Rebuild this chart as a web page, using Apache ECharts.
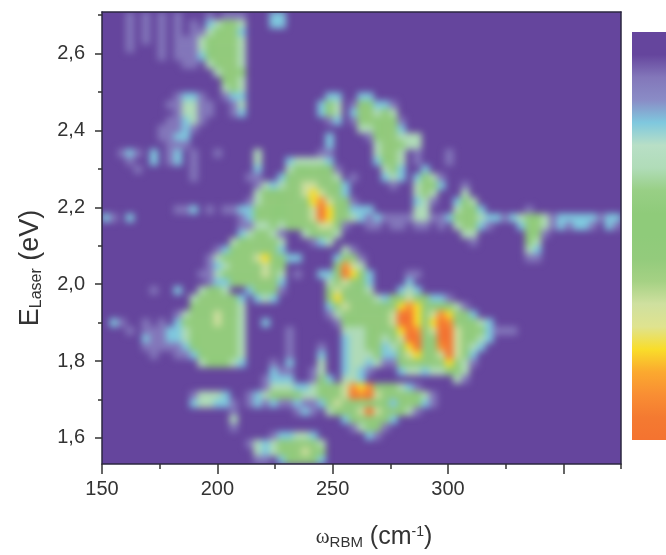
<!DOCTYPE html>
<html>
<head>
<meta charset="utf-8">
<script src="https://cdn.jsdelivr.net/npm/echarts@6/dist/echarts.min.js"></script>
<style>
html,body{margin:0;padding:0;background:#fff;}
#wrap{position:relative;width:666px;height:555px;overflow:hidden;z-index:0;}
#plotBack{position:absolute;left:102px;top:12px;width:519px;height:452px;background:#65459d;}
#chart{position:absolute;left:0;top:0;width:666px;height:555px;}
</style>
</head>
<body>
<div id="wrap"><div id="plotBack"></div><div id="chart"></div></div>
<script>
var xMajorTicks = [150,200,250,300,350];
var xLabelTicks = [150,200,250,300];
var xMinorTicks = [175,225,275,325,375];
var yMajorTicks = [1.6,1.8,2.0,2.2,2.4,2.6];
var yMinorTicks = [1.7,1.9,2.1,2.3,2.5,2.7];
var colorStops = ['#65459d','#65459d','#8377ba','#8a8cc6','#7fc8de','#b8dfc6','#b0dcb8','#98cf85','#8fcb7a','#8fcb7a','#93cb7c','#a5d184','#cfe09f','#dfe38f','#f9dd2a','#fba92f','#f98e33','#f47a31','#f47330'];
var nCols = 65;
// intensity levels, one row per ~8px band from the top, "startColumn:levels"
var intensityRows = [
"3:1 5:1 7:1 9:1 13:1 15:11 17:1 21:22",
"3:1 5:1 7:1 9:1 11:1 13:23453 21:22",
"3:1 5:1 7:1 9:1 11:1 12:134552",
"3:1 5:1 7:1 9:111 12:345553",
"3:1 7:1 9:111345553",
"7:1 9:111245553",
"10:11 13:34553",
"14:3554",
"15:453",
"15:343",
"9:1221 15:122 28:22 32:22",
"8:113311 16:13 27:243 31:144221",
"9:13311 16:12 27:243 31:255343",
"8:11231 28:12 31:1454541",
"7:11121 32:334552",
"7:1122 28:2 33:1455333",
"8:111 28:2 34:355433",
"2:121 6:2 8:12 11:1 14:1 19:3 27:11 34:3553 39:1 43:1",
"3:1 6:2 8:12 11:1 19:3 23:233332 34:2453 39:1 43:1",
"4:1 11:1 19:2 23:3445441 35:352 40:2",
"11:1 18:11 22:24555553 31:1 35:232 39:2431",
"19:132355665542 36:1 39:3542 45:1",
"19:344455676552 39:353 45:3",
"18:13554555786541 39:231 44:243",
"9:112 13:1 15:1122454455569754222 39:33 44:3542 53:1",
"0:21 3:2 17:124544555697553212111133112455322123443122222122",
"17:11334345556641 33:1101101101 44:35521 52:25531 57:21221 63:21",
"17:234531 25:34553 45:33 53:441",
"16:3455543 26:123 46:1 53:43",
"14:1 15:24555552 30:31 53:32",
"13:134555675422 29:2551 53:11",
"13:1235555654 29:4863",
"12:11345555653 24:1 27:2259742 38:11",
"13:1224555552 28:356542 38:2",
"6:1 9:2 12:3443 18:24441 28:465543 37:232",
"11:3555542 19:232 28:4755543245654221",
"11:4555553 28:256555545787544431",
"9:135556553 28:1 29:355555569975687542",
"1:21 5:1 7:1 9:245556553 20:2 29:14455556997579855432",
"3:1 5:1112235555553 23:1 30:3334545798569965542111",
"5:2112234555553 23:1 30:2334534699559965432",
"5:1111124555553 23:1 27:1 30:233452357955896532",
"6:1 9:112455553 23:1 27:2 30:233342256755696 45:42",
"12:344432 21:1 23:2 27:3 30:233231145555575 45:31",
"21:21 23:1 26:13 30:2321 37:233233443",
"20:1222 26:142 30:332 44:31",
"20:13332234556878554321",
"11:13332 18:123444433455698965555431",
"11:233221 18:12121 23:12112465555442 37:45421",
"16:1 24:121 28:345569655431",
"16:3 30:2455542",
"16:1 31:13441",
"21:122332 33:21",
"18:1323455553",
"19:323555654",
"19:11 22:245542"
];

var columns = [];
for (var c = 0; c < nCols; c++) columns.push(c);
var rowsIdx = intensityRows.map(function (_, i) { return i; });
var cells = [];
intensityRows.forEach(function (row, r) {
  row.split(' ').forEach(function (seg) {
    var p = seg.split(':'), start = +p[0];
    p[1].split('').forEach(function (d, k) {
      if (+d > 0 && start + k < nCols) cells.push([start + k, r, +d]);
    });
  });
});

var font = '"Liberation Sans", Arial, sans-serif';
var ink = '#333333';
var frame = '#2b2740';
var gridBox = {left:102, top:12, width:519, height:452, containLabel:false};
var hiddenAxis = function (d, inv) {
  return {type:'category', data:d, show:false, inverse:!!inv, boundaryGap:true, zlevel:1};
};
var barStops = colorStops.map(function (col, i) { return {offset:i / (colorStops.length - 1), color:col}; });
var chart = echarts.init(document.getElementById('chart'), null, {renderer:'canvas'});
chart.setOption({
  animation:false,
  backgroundColor:'transparent',
  grid:gridBox,
  xAxis:[
    hiddenAxis(columns),
    {type:'value', position:'bottom', min:150, max:375, zlevel:1, splitLine:{show:false},
     axisLine:{show:true, lineStyle:{color:frame, width:1.5}},
     axisTick:{show:true, customValues:xMajorTicks, length:10, lineStyle:{color:ink, width:1.5}},
     axisLabel:{show:true, customValues:xLabelTicks, margin:15, color:ink, fontSize:20, fontFamily:font}},
    {type:'value', position:'bottom', min:150, max:375, zlevel:1, splitLine:{show:false},
     axisLine:{show:false},
     axisTick:{show:true, customValues:xMinorTicks, length:5, lineStyle:{color:ink, width:1.5}},
     axisLabel:{show:false}},
    {type:'value', position:'top', min:150, max:375, zlevel:1, splitLine:{show:false},
     axisLine:{show:true, lineStyle:{color:frame, width:1.5}}, axisTick:{show:false}, axisLabel:{show:false}}
  ],
  yAxis:[
    hiddenAxis(rowsIdx, true),
    {type:'value', position:'left', min:1.532, max:2.708, zlevel:1, splitLine:{show:false},
     axisLine:{show:true, lineStyle:{color:frame, width:1.5}},
     axisTick:{show:true, customValues:yMajorTicks, length:7, lineStyle:{color:ink, width:1.5}},
     axisLabel:{show:true, customValues:yMajorTicks, margin:17, color:ink, fontSize:20, fontFamily:font,
       formatter:function (v) { return v.toFixed(1).replace('.', ','); }}},
    {type:'value', position:'left', min:1.532, max:2.708, zlevel:1, splitLine:{show:false},
     axisLine:{show:false},
     axisTick:{show:true, customValues:yMinorTicks, length:4, lineStyle:{color:ink, width:1.5}},
     axisLabel:{show:false}},
    {type:'value', position:'right', min:1.532, max:2.708, zlevel:1, splitLine:{show:false},
     axisLine:{show:true, lineStyle:{color:frame, width:1.5}}, axisTick:{show:false}, axisLabel:{show:false}}
  ],
  visualMap:{
    type:'continuous', show:false, min:0, max:9, dimension:2, seriesIndex:0,
    inRange:{color:colorStops}
  },
  series:[{
    type:'heatmap', xAxisIndex:0, yAxisIndex:0, data:cells, zlevel:0,
    progressive:0, silent:true, itemStyle:{borderWidth:0},
    emphasis:{disabled:true}
  }],
  graphic:[
    {type:'rect', zlevel:1, silent:true, shape:{x:632, y:32, width:34, height:408},
     style:{fill:new echarts.graphic.LinearGradient(0, 0, 0, 1, barStops)}},
    {type:'text', zlevel:1, x:31, y:268, rotation:Math.PI/2, style:{
      text:'{n|E}{s|Laser}{n| (eV)}', align:'center', verticalAlign:'middle', fill:ink,
      rich:{n:{fontSize:27, fontFamily:font, fill:ink}, s:{fontSize:16, fontFamily:font, fill:ink, padding:[11,0,0,0]}}
    }},
    {type:'text', zlevel:1, x:374, y:537, style:{
      text:'{w|\u03c9}{s|RBM}{n| (cm}{u|-1}{n|)}', align:'center', verticalAlign:'middle', fill:ink,
      rich:{w:{fontSize:21, fontFamily:'"Liberation Serif", serif', fill:ink},
            s:{fontSize:15, fontFamily:font, fill:ink, padding:[11,0,0,0]},
            n:{fontSize:25, fontFamily:font, fill:ink},
            u:{fontSize:14, fontFamily:font, fill:ink, padding:[0,0,10,0]}}
    }}
  ]
});
var base = document.querySelector('#chart canvas[data-zr-dom-id="zr_0"]');
if (base) {
  base.style.filter = 'blur(3.5px)';
  base.style.clipPath = 'inset(12px 45px 91px 102px)';
}
</script>
</body>
</html>
